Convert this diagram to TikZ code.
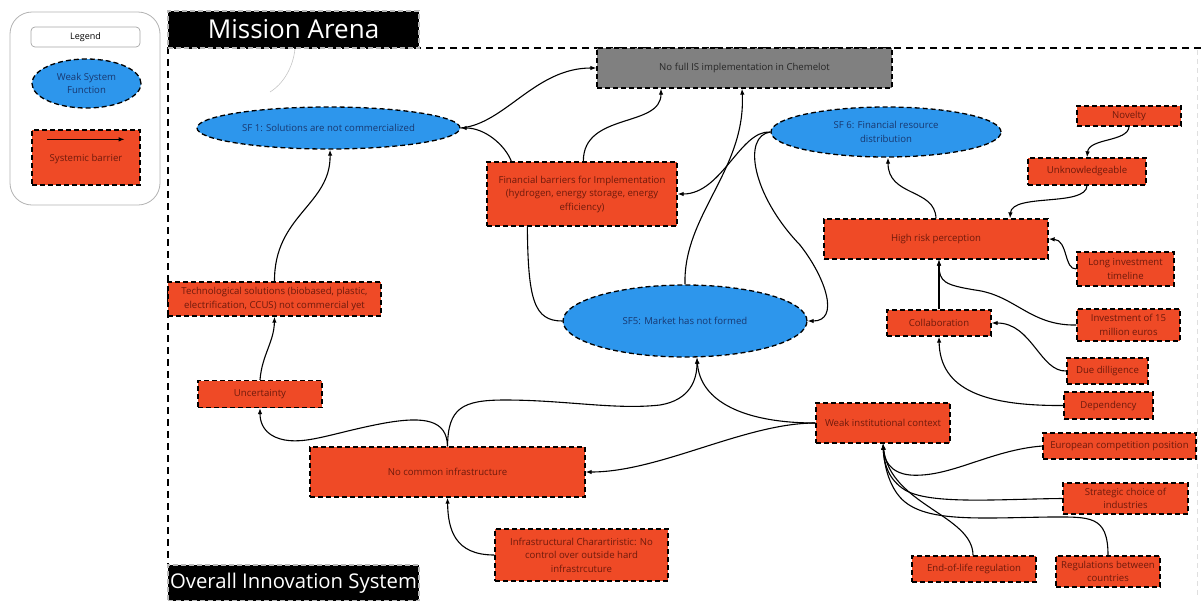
\documentclass[tikz,border=0pt]{standalone}
\usepackage{fontspec}
\setmainfont{Open Sans}
\usetikzlibrary{shapes.geometric,arrows.meta}

\definecolor{barfill}{HTML}{EF4A26}
\definecolor{bartext}{HTML}{6E1A0C}
\definecolor{sffill}{HTML}{2D96EC}
\definecolor{sftext}{HTML}{183870}
\definecolor{greyfill}{HTML}{808080}
\definecolor{greytext}{HTML}{262626}

\begin{document}
\begin{tikzpicture}[x=1pt,y=-1pt,
  sz/.style 2 args={minimum width=#1pt,minimum height=#2pt},
  outline/.style={draw=black,line width=1.3pt,dash pattern=on 5pt off 3pt},
  barrier/.style={rectangle,outline,fill=barfill,text=bartext,align=center,
    inner sep=1pt,font=\fontsize{9.6}{13.5}\selectfont},
  sysfn/.style={ellipse,outline,fill=sffill,text=sftext,align=center,
    inner sep=0pt,font=\fontsize{9.6}{13.5}\selectfont},
  greybox/.style={rectangle,outline,fill=greyfill,text=greytext,align=center,
    inner sep=1pt,font=\fontsize{9.6}{13.5}\selectfont},
  titlebox/.style={rectangle,fill=black,draw=gray!55,line width=1.2pt,
    dash pattern=on 5pt off 3pt,text=white,inner sep=0pt},
  conn/.style={draw=black,line width=1.1pt,-{Latex[length=6pt,width=4.5pt]}},
  link/.style={draw=black,line width=1.1pt},
  frame/.style={draw=black,line width=1.4pt,dash pattern=on 7pt off 5pt}
]
\useasboundingbox (0,0) rectangle (1201,600);

% ---------- legend ----------
\draw[gray!60,line width=0.8pt,rounded corners=22pt] (10,12) rectangle (160,205);
\node[draw=gray!70,line width=0.7pt,fill=white,rounded corners=4pt,sz={109}{20},
  font=\fontsize{9}{10}\selectfont] (legtitle) at (85.5,37) {Legend};
\node[sysfn,sz={109}{49}] (legsf) at (86.5,83.5) {Weak System\\Function};
\node[barrier,sz={108}{55},text depth=-2pt] (legbar) at (86,157.5) {Systemic barrier};
\draw[conn] ([xshift=16pt,yshift=-10pt]legbar.north west) -- ([xshift=-16pt,yshift=-10pt]legbar.north east);

% ---------- arena frame and titles ----------
\draw[frame] (1201,48) -- (168,48) -- (168,565);
\draw[gray!25,line width=0.8pt,dash pattern=on 5pt off 4pt] (1197,50) -- (1197,596);
\node[titlebox,sz={251}{37},font=\fontsize{26}{28}\selectfont] (mission) at (293.5,29.5) {Mission Arena};
\node[titlebox,sz={251}{36},font=\fontsize{20.3}{22}\selectfont] (overall) at (293.5,583) {Overall Innovation System};
\coordinate (loose) at (270,92);
\draw[gray!45,line width=0.6pt] ([xshift=1.5pt]mission.south) .. controls (293,68) and (283,84) .. (loose);

% ---------- nodes ----------
\node[greybox,sz={295}{40}] (nofull) at (744.5,68) {No full IS implementation in Chemelot};
\node[sysfn,sz={263}{42}] (sf1) at (328.5,128) {SF 1: Solutions are not commercialized};
\node[sysfn,sz={230}{50}] (sf6) at (886,132) {SF 6: Financial resource\\distribution};
\node[barrier,sz={190}{64}] (finbar) at (582,194) {Financial barriers for Implementation\\(hydrogen, energy storage, energy\\efficiency)};
\node[barrier,sz={104}{20}] (novelty) at (1129,116) {Novelty};
\node[barrier,sz={118}{27}] (unknow) at (1087,171.5) {Unknowledgeable};
\node[barrier,sz={224}{40}] (highrisk) at (936,239) {High risk perception};
\node[barrier,sz={97}{34}] (longinv) at (1125.5,269) {Long investment\\timeline};
\node[barrier,sz={213}{34}] (techsol) at (274.5,299) {Technological solutions (biobased, plastic,\\electrification, CCUS) not commercial yet};
\node[sysfn,sz={244}{72}] (sf5) at (685,321) {SF5: Market has not formed};
\node[barrier,sz={104}{26}] (collab) at (939,323) {Collaboration};
\node[barrier,sz={103}{32}] (invest) at (1128.5,325) {Investment of 15\\million euros};
\node[barrier,sz={81}{26}] (duedil) at (1107.5,371) {Due dilligence};
\node[barrier,sz={89}{27}] (depend) at (1108.5,405.5) {Dependency};
\node[barrier,sz={124}{27}] (uncert) at (260,394) {Uncertainty};
\node[barrier,sz={134}{40}] (weakinst) at (883,423) {Weak institutional context};
\node[barrier,sz={275}{50}] (nocommon) at (447.5,472) {No common infrastructure};
\node[barrier,sz={153}{26}] (european) at (1119.5,446) {European competition position};
\node[barrier,sz={125}{31}] (strategic) at (1125.5,498.5) {Strategic choice of\\industries};
\node[barrier,sz={173}{52}] (infra) at (581.5,555) {Infrastructural Charartiristic: No\\control over outside hard\\infrastrcuture};
\node[barrier,sz={124}{26}] (endlife) at (974,569) {End-of-life regulation};
\node[barrier,sz={104}{31}] (regs) at (1108,571.5) {Regulations between\\countries};

% ---------- connectors ----------
\draw[conn] (sf1.east) .. controls (505,124) and (535,68) .. (nofull.west);
\draw[conn] ([xshift=25pt]finbar.north west) .. controls (505,145) and (485,128) .. (sf1.east);
\draw[conn] ([xshift=97pt]finbar.north west) .. controls (583,112) and (661,128) .. ([xshift=-83.5pt]nofull.south);
\draw[conn] (sf5.north) .. controls (683,215) and (746,170) .. ([xshift=-2.5pt]nofull.south);
\draw[conn] (sf6.west) .. controls (740,130) and (722,194) .. (finbar.east);
\draw[conn] (sf6.west) .. controls (742,136) and (752,195) .. (800,245)
  .. controls (826,278) and (840,321) .. (sf5.east);
\draw[link] ([xshift=41pt]finbar.south west) .. controls (528,300) and (534,321) .. (sf5.west);
\draw[conn] (techsol.north) .. controls (274,215) and (331,205) .. ([xshift=1.5pt]sf1.south);
\draw[conn] (uncert.north) .. controls (262,355) and (274,342) .. (techsol.south);
\draw[conn] (nocommon.north) .. controls (447,420) and (425,416) .. (385,423)
  .. controls (330,433) and (300,448) .. (275,437)
  .. controls (262,431) and (260,420) .. (uncert.south);
\draw[conn] (nocommon.north) .. controls (448,408) and (462,400) .. (505,400)
  .. controls (565,400) and (615,410) .. (660,405)
  .. controls (690,400) and (697,380) .. ([xshift=12pt]sf5.south);
\draw[conn] (weakinst.west) .. controls (745,423) and (700,402) .. ([xshift=12pt]sf5.south);
\draw[conn] (weakinst.west) .. controls (745,423) and (660,472) .. (nocommon.east);
\draw[conn] (highrisk.north) .. controls (935,188) and (888,197) .. ([xshift=2pt]sf6.south);
\draw[conn] (novelty.south) .. controls (1128,142) and (1089,138) .. (unknow.north);
\draw[conn] (unknow.south) .. controls (1086,207) and (1012,193) .. ([xshift=74pt]highrisk.north);
\draw[conn] (longinv.west) .. controls (1064,270) and (1068,240) .. (highrisk.east);
\draw[conn] (collab.north) -- (collab.north |- highrisk.south);
\draw[conn] (invest.west) .. controls (1030,326) and (1015,295) .. (975,290)
  .. controls (945,285) and (939,282) .. (collab.north |- highrisk.south);
\draw[conn] (duedil.west) .. controls (1040,372) and (1032,323) .. (collab.east);
\draw[conn] (depend.west) .. controls (985,406) and (940,390) .. (collab.south);
\draw[conn] (european.west) .. controls (990,450) and (950,478) .. (910,475)
  .. controls (890,473) and (884,460) .. (weakinst.south);
\draw[conn] (strategic.west) .. controls (1000,499) and (930,505) .. (905,490)
  .. controls (889,480) and (884,465) .. (weakinst.south);
\draw[conn] ([xshift=-1pt]endlife.north) .. controls (973,515) and (890,505) .. (weakinst.south);
\draw[conn] (regs.north) .. controls (1108,515) and (1090,517) .. (1050,517)
  .. controls (980,518) and (930,522) .. (905,502)
  .. controls (890,490) and (884,466) .. (weakinst.south);
\draw[conn] (infra.west) .. controls (455,555) and (448,530) .. (nocommon.south);
\end{tikzpicture}
\end{document}
